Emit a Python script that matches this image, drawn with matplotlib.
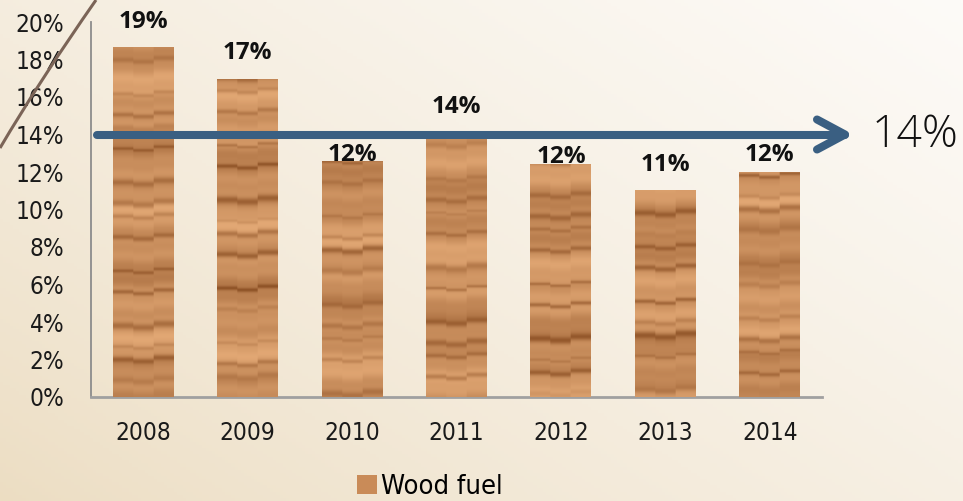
import numpy as np
import matplotlib
matplotlib.use("Agg")
import matplotlib.pyplot as plt
from matplotlib.path import Path
from matplotlib.patches import PathPatch, Patch
import matplotlib.transforms as mtransforms

# ---- data ----
years = ["2008", "2009", "2010", "2011", "2012", "2013", "2014"]
wood_fuel = [0.1867, 0.1696, 0.1259, 0.1374, 0.1243, 0.1104, 0.1200]
value_labels = ["19%", "17%", "12%", "14%", "12%", "11%", "12%"]
average = 0.14
average_label = "14%"
series_name = "Wood fuel"
y_ticks = [0, 0.02, 0.04, 0.06, 0.08, 0.10, 0.12, 0.14, 0.16, 0.18, 0.20]

# label offsets above bar tops (points) -- layout only
label_offsets = [18, 19, 4, 23, 5, 18, 12.5]

W, H = 963, 501
fig = plt.figure(figsize=(W / 100, H / 100), dpi=100)

# background gradient
bg = fig.add_axes([0, 0, 1, 1], zorder=-10)
gx = np.linspace(0, 1, 300)
gy = np.linspace(0, 1, 160)
X, Y = np.meshgrid(gx, gy)  # Y=0 top row
t = np.clip(0.55 * X + 0.45 * (1 - Y), 0, 1)
t = t ** 0.8
dark = np.array([236, 221, 194]) / 255
light = np.array([253, 251, 248]) / 255
img = dark[None, None, :] * (1 - t[..., None]) + light[None, None, :] * t[..., None]
bg.imshow(img, extent=(0, 1, 0, 1), aspect="auto", origin="upper")
bg.set_axis_off()

# curved brown decorative line (upper-left)
verts = [(0 / W, 1 - 148 / H), (40 / W, 1 - 80 / H), (96 / W, 1 - 0 / H)]
curve = PathPatch(Path(verts, [Path.MOVETO, Path.CURVE3, Path.CURVE3]),
                  transform=fig.transFigure, fill=False, ec="#7b6457", lw=2.2, zorder=5)
fig.add_artist(curve)

left, right = 91 / W, 822 / W
bottom, top = 1 - 397 / H, 1 - 22 / H
ax = fig.add_axes([left, bottom, right - left, top - bottom])
ax.set_facecolor("none")

x = np.arange(len(years))
bw = 0.584
bars = ax.bar(x, wood_fuel, width=bw, color="#d09a68", zorder=2)
ax.set_xlim(-0.5, len(years) - 0.5)
ax.set_ylim(0, 0.20)

# wood texture
def wood_texture(seed_phase, rows=420, cols=3):
    yy = np.linspace(0, 1, rows)
    tex = np.zeros((rows, 60, 3))
    lightc = np.array([234, 176, 124]) / 255
    darkc = np.array([140, 80, 36]) / 255
    for c in range(cols):
        shift = 0.005 * ((c * 7 + int(seed_phase * 10)) % 3 - 1)
        yv = yy + shift
        d = 0.33 + 0.12 * np.sin(2 * np.pi * 3.1 * yv + seed_phase) \
            + 0.09 * np.sin(2 * np.pi * 8.7 * yv + 2.1 * seed_phase) \
            + 0.04 * np.sin(2 * np.pi * 23.0 * yv + 0.7 * seed_phase)
        lines = np.zeros_like(yv)
        for k in range(16):
            yk = (k * 0.6180339 + seed_phase * 0.37) % 1.0
            amp = 0.15 + 0.35 * ((k * 0.414 + seed_phase) % 1.0)
            wdt = 0.004 + 0.006 * ((k * 0.273 + seed_phase) % 1.0)
            lines += amp * np.exp(-((yv - yk) / wdt) ** 2)
        d = np.clip(d + lines, 0, 1)
        block = lightc[None, :] * (1 - d[:, None]) + darkc[None, :] * d[:, None]
        c0 = c * 20
        tex[:, c0:c0 + 20, :] = block[:, None, :]
    return tex

for i, b in enumerate(bars):
    tex = wood_texture(1.3 + i * 0.91)
    x0 = b.get_x()
    im = ax.imshow(tex, extent=(x0, x0 + bw, 0, 0.20), aspect="auto",
                   origin="lower", zorder=3, interpolation="bilinear")
    im.set_clip_path(b)

# value labels
for i, (v, lab) in enumerate(zip(wood_fuel, value_labels)):
    ax.annotate(lab, (x[i], v), xytext=(0, label_offsets[i]), textcoords="offset points",
                ha="center", va="center", fontsize=17.5, fontweight="bold",
                family=["Open Sans", "DejaVu Sans"], color="#111111", zorder=6)

# axes styling
for s in ["top", "right"]:
    ax.spines[s].set_visible(False)
ax.spines["left"].set_color("#8c8c8c")
ax.spines["left"].set_linewidth(1.3)
ax.spines["bottom"].set_color("#a0a0a0")
ax.spines["bottom"].set_linewidth(2.0)
ax.set_yticks(y_ticks)
ax.set_yticklabels([f"{int(round(v * 100))}%" for v in y_ticks])
ax.set_xticks(x)
ax.set_xticklabels(years)
ax.tick_params(axis="both", length=0, labelsize=17.5, colors="#1a1a1a")
ax.tick_params(axis="y", pad=19)
ax.tick_params(axis="x", pad=17)
for lab in ax.get_xticklabels() + ax.get_yticklabels():
    lab.set_family(["DejaVu Sans"])
    lab.set_fontstretch("condensed")
    lab.set_fontweight("light")

# average arrow
blend = mtransforms.blended_transform_factory(ax.transAxes, ax.transData)
ax_w = right - left
def fx(px):
    return (px - 91) / (ax_w * W)
dy = 15 / 18.75 / 100
arrow_col = "#3a5f82"
ax.plot([fx(97), fx(845)], [average, average], transform=blend, color=arrow_col,
        lw=5.8, solid_capstyle="round", clip_on=False, zorder=7)
ax.plot([fx(817), fx(845), fx(817)], [average + dy, average, average - dy], transform=blend,
        color=arrow_col, lw=5.8, solid_capstyle="round", solid_joinstyle="round",
        clip_on=False, zorder=7)
ax.text(fx(872), average - 0.0008, average_label, transform=blend, ha="left", va="center",
        fontsize=32, fontweight="light", family=["Open Sans", "DejaVu Sans"],
        color="#111111", clip_on=False)

# legend
handle = Patch(facecolor="#c98b58", edgecolor="none")
leg = fig.legend([handle], [series_name], loc="center",
                 bbox_to_anchor=(430 / W, 1 - 487 / H), frameon=False,
                 handlelength=0.75, handleheight=0.75, handletextpad=0.15,
                 prop={"family": ["DejaVu Sans"], "stretch": "condensed",
                       "weight": "light", "size": 19.5})

fig.savefig("out.png", dpi=100)
